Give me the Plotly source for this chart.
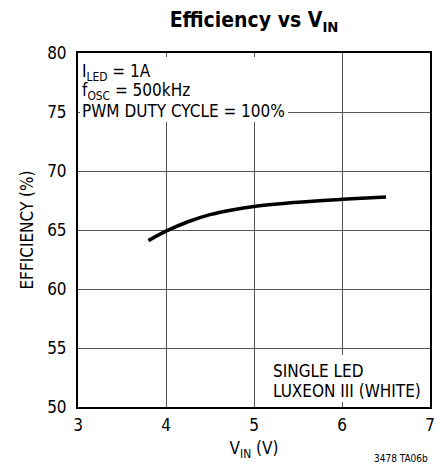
import plotly.graph_objects as go

vin = [3.8, 4.0, 4.25, 4.5, 4.75, 5.0, 5.5, 6.0, 6.5]
eff = [64.1, 64.9, 65.7, 66.3, 66.7, 67.0, 67.35, 67.6, 67.8]
x_ticks = [3, 4, 5, 6, 7]
y_ticks = [50, 55, 60, 65, 70, 75, 80]

FONT = "DejaVu Sans Condensed, Liberation Sans Narrow, Arial Narrow, sans-serif"

fig = go.Figure()
fig.add_trace(go.Scatter(x=vin, y=eff, mode="lines", line=dict(color="black", width=3.5, shape="spline"),
                         hoverinfo="skip"))

def note(text, x, y, xa, ya, xs, ys, size=17):
    return dict(x=x, y=y, xref="paper", yref="paper", xanchor=xa, yanchor=ya, align="left",
                text=text, showarrow=False, borderpad=0,
                xshift=xs, yshift=ys, font=dict(size=size))

# white blanking boxes behind the text blocks (pixel sized, anchored to the plot corners)
shapes = [
    dict(type="rect", xref="paper", yref="paper", xsizemode="pixel", ysizemode="pixel",
         xanchor=0, yanchor=1, x0=2, x1=210, y0=-4, y1=-69,
         fillcolor="white", line=dict(width=0), layer="above"),
    dict(type="rect", xref="paper", yref="paper", xsizemode="pixel", ysizemode="pixel",
         xanchor=1, yanchor=0, x0=-162, x1=-2, y0=5, y1=52,
         fillcolor="white", line=dict(width=0), layer="above"),
]

fig.update_layout(
    width=437, height=465,
    margin=dict(l=70, r=15, t=45, b=66, autoexpand=False),
    paper_bgcolor="white", plot_bgcolor="white",
    showlegend=False,
    font=dict(family=FONT, color="black", size=17),
    title=dict(text="<b>Efficiency vs V<sub>IN</sub></b>", x=0.563, xanchor="center", y=0.974, yanchor="middle",
               font=dict(family=FONT, size=21, color="black")),
    xaxis=dict(range=[3, 7], tickvals=x_ticks, showgrid=True, gridcolor="#555", gridwidth=1,
               showline=True, linecolor="black", linewidth=2, mirror=True, zeroline=False,
               ticks="", ticklen=0, automargin=False, ticklabelstandoff=2,
               title=dict(text="V<sub>IN</sub> (V)", standoff=8, font=dict(size=17))),
    yaxis=dict(range=[50, 80], tickvals=y_ticks, showgrid=True, gridcolor="#555", gridwidth=1,
               showline=True, linecolor="black", linewidth=2, mirror=True, zeroline=False,
               ticks="", ticklen=0, automargin=False, ticklabelstandoff=6,
               title=dict(text="EFFICIENCY (%)", standoff=9, font=dict(size=17))),
    shapes=shapes,
    annotations=[
        note("I<sub>LED</sub> = 1A", 0, 1, "left", "middle", 3, -19),
        note("f<sub>OSC</sub> = 500kHz", 0, 1, "left", "middle", 3, -38),
        note("PWM DUTY CYCLE = 100%", 0, 1, "left", "middle", 3, -58),
        note("SINGLE LED", 0.554, 0, "left", "middle", -1, 36),
        note("LUXEON III (WHITE)", 0.554, 0, "left", "middle", -1, 16),
        dict(x=1, y=0, xref="paper", yref="paper", xanchor="right", yanchor="middle",
             text="3478 TA06b", showarrow=False, yshift=-51, xshift=0, font=dict(size=10)),
    ],
)

fig.write_html("out.html")
